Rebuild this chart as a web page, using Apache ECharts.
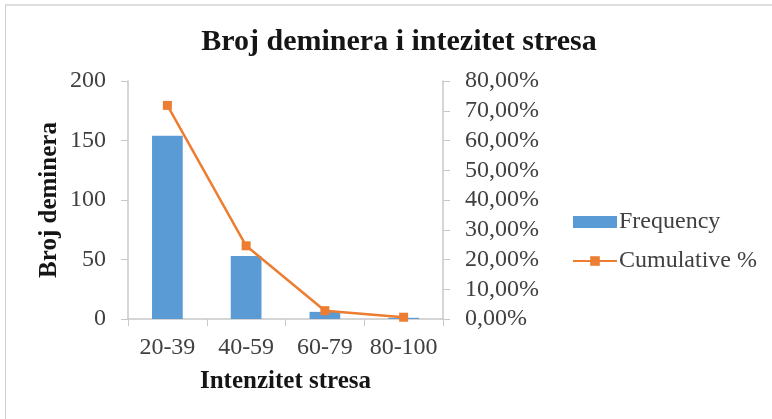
<!DOCTYPE html>
<html>
<head>
<meta charset="utf-8">
<script src="https://cdn.jsdelivr.net/npm/echarts@6/dist/echarts.min.js"></script>
<style>html,body{margin:0;padding:0;background:#fff;}#c{width:772px;height:419px;}</style>
</head>
<body>
<div id="c"></div>
<script>
const categories = ['20-39', '40-59', '60-79', '80-100'];
const frequency = [154, 53, 6, 1];
const cumulative = [71.8, 24.6, 2.8, 0.6];
const leftTicks = [0, 50, 100, 150, 200];
const rightTicks = [0, 10, 20, 30, 40, 50, 60, 70, 80];

const serif = '"Liberation Serif", "Times New Roman", serif';
const chart = echarts.init(document.getElementById('c'));
chart.setOption({
  animation: false,
  backgroundColor: '#fff',
  title: {
    text: 'Broj deminera i intezitet stresa',
    left: 394, top: 22, textAlign: 'center',
    textStyle: {fontFamily: serif, fontSize: 30, fontWeight: 'bold', color: '#151515'}
  },
  graphic: [
    {type: 'line', shape: {x1: 5, y1: 5, x2: 772, y2: 5}, style: {stroke: '#bdbdbd', lineWidth: 1}},
    {type: 'line', shape: {x1: 5.5, y1: 5, x2: 5.5, y2: 419}, style: {stroke: '#d0d0d0', lineWidth: 1}}
  ],
  legend: {
    orient: 'vertical', left: 567, top: 205, itemWidth: 44, itemHeight: 12, itemGap: 15,
    textStyle: {fontFamily: serif, fontSize: 24, color: '#404040', padding: [0, 0, 0, -3]},
    data: [{name: 'Frequency', icon: 'rect'}, {name: 'Cumulative %'}]
  },
  grid: {left: 128, right: 329, top: 81, bottom: 100},
  xAxis: {
    type: 'category', data: categories, boundaryGap: true,
    name: 'Intenzitet stresa', nameLocation: 'middle', nameGap: 50,
    nameTextStyle: {fontFamily: serif, fontSize: 25, fontWeight: 'bold', color: '#151515'},
    axisLine: {lineStyle: {color: '#c8c8c8', width: 1.5}},
    axisTick: {show: true, length: 7, lineStyle: {color: '#c8c8c8'}},
    axisLabel: {fontFamily: serif, fontSize: 24, color: '#404040', margin: 17,
      interval: 0, hideOverlap: false}
  },
  yAxis: [
    {
      type: 'value', min: 0, max: 200, interval: 50,
      name: 'Broj deminera', nameLocation: 'middle', nameGap: 66, nameRotate: 90,
      nameTextStyle: {fontFamily: serif, fontSize: 25, fontWeight: 'bold', color: '#151515'},
      axisLine: {show: true, lineStyle: {color: '#c8c8c8', width: 1.5}},
      axisTick: {show: true, length: 7, lineStyle: {color: '#c8c8c8'}},
      splitLine: {show: false},
      axisLabel: {fontFamily: serif, fontSize: 24, color: '#404040', margin: 22,
        customValues: leftTicks}
    },
    {
      type: 'value', min: 0, max: 80, interval: 10, position: 'right',
      axisLine: {show: true, lineStyle: {color: '#c8c8c8', width: 1.5}},
      axisTick: {show: true, length: 7, lineStyle: {color: '#c8c8c8'}},
      splitLine: {show: false},
      axisLabel: {fontFamily: serif, fontSize: 24, color: '#404040', margin: 22,
        customValues: rightTicks,
        formatter: v => v.toFixed(2).replace('.', ',') + '%'}
    }
  ],
  series: [
    {
      name: 'Frequency', type: 'bar', data: frequency, barWidth: '39%',
      itemStyle: {color: '#5B9BD5'}
    },
    {
      name: 'Cumulative %', type: 'line', yAxisIndex: 1, data: cumulative,
      symbol: 'rect', symbolSize: 9,
      lineStyle: {color: '#ED7D31', width: 2.5},
      itemStyle: {color: '#ED7D31'}
    }
  ]
});
</script>
</body>
</html>
